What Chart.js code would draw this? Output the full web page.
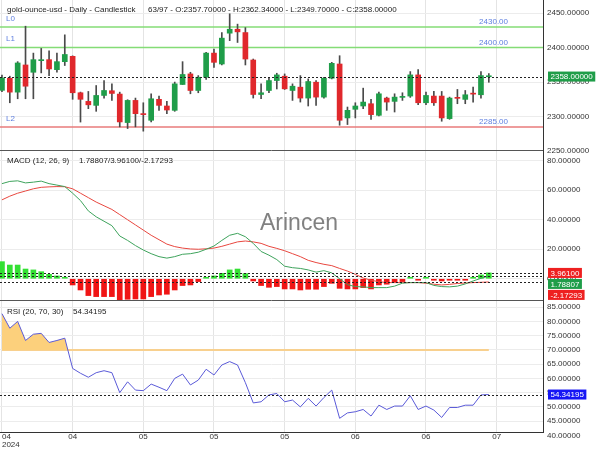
<!DOCTYPE html>
<html>
<head>
<meta charset="utf-8">
<script src="https://cdn.jsdelivr.net/npm/chart.js@4.4.1/dist/chart.umd.min.js"></script>
<style>
  html, body { margin: 0; padding: 0; background: #fff; }
  canvas { display: block; }
</style>
</head>
<body>
<canvas id="chart" width="600" height="450"></canvas>
<script>
// ── Data ──────────────────────────────────────────────────────────────
const opens  = [2338, 2355.6, 2335.4, 2374.8, 2364.2, 2381, 2382.5, 2368, 2379.6, 2387.3,
                2334.5, 2322, 2316.2, 2330.6, 2337.4, 2332.6, 2291.3, 2323.4, 2303.2, 2294.6,
                2325, 2315.3, 2309, 2346.5, 2361.8, 2337.8, 2357, 2392, 2376.2, 2420.9,
                2426.6, 2421.8, 2382, 2332, 2337.8, 2352.2, 2358.5, 2337.8, 2342.6, 2326.8,
                2349.8, 2328.2, 2355.6, 2376.2, 2298, 2310.5, 2315.3, 2318.6, 2301.8, 2326.8,
                2322, 2327.8, 2329.7, 2360.4, 2320, 2329.7, 2329.7, 2297, 2327.2, 2324.9,
                2333.2, 2331.6, 2357.7];
const highs  = [2360, 2358.5, 2379.6, 2431, 2392, 2398.8, 2395.4, 2392, 2418.5, 2388,
                2335.5, 2336.4, 2345, 2352.2, 2347.4, 2335.4, 2324.4, 2326.8, 2320, 2333,
                2329.7, 2322, 2350, 2379.6, 2364.2, 2359.4, 2393, 2397.8, 2421.8, 2449,
                2434, 2429, 2383.4, 2347.4, 2357, 2362.8, 2361.8, 2347.4, 2359.4, 2354.6,
                2352.2, 2357, 2378.6, 2388.2, 2313.8, 2320, 2341.2, 2324.9, 2335.4, 2328.2,
                2333, 2334.5, 2365.2, 2368, 2335.4, 2336.4, 2336.4, 2328.2, 2339.3, 2337.8,
                2342.6, 2365.2, 2362.34];
const lows   = [2336, 2320, 2325.8, 2325.8, 2325.8, 2363.3, 2359.4, 2364.2, 2374, 2325,
                2292, 2311.4, 2307.6, 2326.8, 2323.4, 2285, 2282.6, 2285, 2278.8, 2292.2,
                2309, 2304.2, 2307.6, 2346.5, 2333, 2334.5, 2353.7, 2371.4, 2374.8, 2410,
                2407.4, 2374.8, 2326.8, 2325.8, 2334.5, 2340, 2339.3, 2323.4, 2321, 2315.3,
                2316.2, 2326.8, 2354.6, 2287.4, 2288.4, 2298, 2311.4, 2296, 2300.9, 2309,
                2306.6, 2323.4, 2327.8, 2317.2, 2317.2, 2316.2, 2293.2, 2296, 2318.6, 2318.6,
                2321, 2326.8, 2349.7];
const closes = [2356, 2335.4, 2377.7, 2344, 2382.5, 2382.5, 2369, 2379.6, 2390, 2334.5,
                2325, 2317, 2330.6, 2337.8, 2333.5, 2292.2, 2323.4, 2304.2, 2302.8, 2325.8,
                2316.2, 2309.5, 2347.4, 2361, 2337.8, 2357, 2392, 2378.6, 2413.7, 2426.6,
                2422.8, 2383.4, 2332, 2334.5, 2352.2, 2360.4, 2340.2, 2344, 2326.8, 2350.8,
                2328.2, 2355.6, 2377.2, 2294.6, 2309, 2315.3, 2321, 2302.8, 2333, 2321,
                2328.2, 2328.6, 2360.4, 2320, 2330.6, 2320, 2298, 2326.8, 2326.4, 2331.6,
                2332.5, 2359.4, 2358];

const macdLine   = [64.5, 66, 66.4, 65, 65.5, 66.2, 64.5, 63.5, 62.5, 58,
                    53, 46, 42, 39, 36, 29, 26, 22.5, 19.5, 17, 15, 14, 15, 16.6,
                    17, 18, 20, 22.2, 26, 29.5, 30.8, 28.5, 24, 18.5, 16, 13,
                    8.5, 7.5, 7, 6, 4.5, 5.5, 4, 0, -4, -5.3, -5.5, -6, -6, -6,
                    -5, -3, -2.6, -2.6, -2.6, -4.5, -5.3, -5.5, -5, -3.5, -1.5, 0.3, 1.78807];
const signalLine = [53.5, 56, 58, 59.5, 61, 62, 62.3, 62.5, 62.4, 61,
                    58, 55, 52, 49.5, 47, 43.5, 40, 36.5, 33, 29.5, 26.5, 23.5, 21.8, 20.8,
                    20.2, 20, 20.3, 20.8, 22, 23.5, 25, 25.6, 25, 24, 22, 20.6,
                    19, 17, 15, 12.5, 11, 9.8, 8.9, 7, 5.2, 3, 0.5, -1, -2, -2.6,
                    -2.6, -2.6, -2.6, -2.6, -3, -3.7, -4.2, -3.8, -3.2, -2.9, -2.6, -2.4, -2.17293];
const histogram  = [11.6, 9.3, 9.3, 6.6, 6, 4.8, 3, 1.9, 0.8, -4.2,
                    -7.6, -11.4, -12.1, -12.1, -12.1, -14.4, -13.9, -13.7, -13.7, -12.1,
                    -11, -10.5, -7.6, -4.6, -4.2, -1.9, 0.8, 1.9, 3.7, 6,
                    6.6, 3.5, -1.5, -4.6, -5.8, -5.3, -6.9, -6.9, -7.6, -7.1,
                    -7.1, -5.3, -3.1, -6.5, -6.9, -6.9, -6, -6.9, -4.2, -3.7,
                    -2.4, -1.9, 0.8, -0.4, 0.5, -0.6, -1.5, -0.6, -0.5, -0.3,
                    0.8, 2.6, 3.961];

const rsi = [82.7, 77.6, 80, 73.3, 75.5, 75.8, 72.6, 73.3, 74.1, 63.5,
             61.8, 60.4, 62, 62.7, 62, 55, 58.8, 55.9, 55.7, 58,
             56.9, 55.7, 60, 61.5, 57.7, 59.4, 63.2, 61.2, 64.7, 65.9,
             64.7, 58.5, 51.4, 51.8, 54.2, 54.7, 51.8, 52.4, 50, 53,
             50.3, 53.3, 55.9, 46, 47.9, 48.3, 49.1, 46.8, 50.6, 49.1,
             50.3, 50.3, 53.9, 49.1, 50.3, 48.9, 46.3, 49.8, 49.8, 50.6,
             50.6, 54.2, 54.34195];
const rsiUpper = 70;

const levelNames  = ['L0', 'L1', 'L2'];
const levelValues = [2430, 2400, 2285];

const xTickIdx  = [0, 9, 18, 27, 36, 45, 54, 63];
const xTickText = ['04', '04', '05', '05', '05', '06', '06', '07'];
const yearText  = '2024';

const priceTicks = [2250, 2300, 2350, 2400, 2450];
const macdTicks  = [0, 20, 40, 60, 80];
const rsiTicks   = [40, 45, 50, 55, 60, 65, 70, 75, 80, 85];

// ── Styling ───────────────────────────────────────────────────────────
const FONT = '"Liberation Sans", Arial, sans-serif';
const UP = '#1f9d49', DOWN = '#e0282c';
const HIST_UP = '#33e033', HIST_DOWN = '#f01515';
const LEVEL_COLORS = ['#84dc76', '#84dc76', '#e87b7b'];
const LABEL_BLUE = '#5e7fe0';
const TICK_FONT = { family: FONT, size: 8, lineHeight: 1 };
const NONE = 'rgba(0,0,0,0)';

const idx = closes.map((_, i) => i);
const last = closes.length - 1;

function yAxis(ticks, min, max, weight, stackWeight) {
  return {
    type: 'linear', position: 'right', stack: 'panes', stackWeight, weight, min, max,
    afterBuildTicks: s => { s.ticks = ticks.map(v => ({ value: v })); },
    ticks: { autoSkip: false, color: '#333', font: TICK_FONT, padding: 4, callback: v => v.toFixed(5) },
    grid: {
      drawTicks: false,
      color: c => (c.tick && (c.tick.value < min || c.tick.value > max)) ? NONE : '#ececec'
    },
    border: { color: '#333' },
    afterFit: s => { s.width = 57; s.paddingTop = 0; s.paddingBottom = 0; }
  };
}

function tag(ctx, y, text, bg) {
  const w = ctx.measureText(text).width + 5;
  ctx.fillStyle = bg;
  ctx.fillRect(548, y - 5, w, 10);
  ctx.fillStyle = '#fff';
  ctx.textAlign = 'left';
  ctx.fillText(text, 550.5, y + 0.5);
}

function hline(ctx, a, y, dash, color) {
  ctx.save();
  ctx.strokeStyle = color;
  ctx.lineWidth = 1;
  ctx.setLineDash(dash);
  ctx.beginPath();
  ctx.moveTo(a.left, Math.round(y) + 0.5);
  ctx.lineTo(a.right, Math.round(y) + 0.5);
  ctx.stroke();
  ctx.restore();
}

const overlay = {
  id: 'overlay',
  beforeDatasetsDraw(chart) {
    const ctx = chart.ctx;
    ctx.save();
    ctx.font = '23px ' + FONT;
    ctx.fillStyle = 'rgba(115,115,115,0.9)';
    ctx.textBaseline = 'middle';
    ctx.fillText('Arincen', 260, 224);
    ctx.restore();
  },
  afterDraw(chart) {
    const ctx = chart.ctx, a = chart.chartArea;
    const sP = chart.scales.yP, sM = chart.scales.yM, sR = chart.scales.yR;
    ctx.save();
    // panel separators
    hline(ctx, a, sM.top, [], '#555');
    hline(ctx, a, sR.top, [], '#555');

    // last value lines
    hline(ctx, a, sP.getPixelForValue(closes[last]), [2, 2], '#222');
    [histogram[last], macdLine[last], signalLine[last]].forEach(v =>
      hline(ctx, a, sM.getPixelForValue(v), [2, 2], '#222'));
    hline(ctx, a, sR.getPixelForValue(rsi[last]), [2, 2], '#222');

    ctx.font = '8px ' + FONT;
    ctx.textBaseline = 'middle';

    // level labels
    levelValues.forEach((v, k) => {
      const y = sP.getPixelForValue(v);
      ctx.fillStyle = LABEL_BLUE;
      ctx.textAlign = 'left';
      ctx.fillText(levelNames[k], 6, y - 8.5);
      ctx.textAlign = 'right';
      ctx.fillText(v.toFixed(2), 508, y - 5);
    });

    // panel captions
    ctx.textAlign = 'left';
    ctx.fillStyle = '#222';
    ctx.fillText('gold-ounce-usd - Daily - Candlestick', 7, 10);
    ctx.fillText(closes.length + '/97 - O:' + opens[last].toFixed(5) + ' - H:' + highs[last].toFixed(5) +
                 ' - L:' + lows[last].toFixed(5) + ' - C:' + closes[last].toFixed(5), 148, 10);
    ctx.fillText('MACD (12, 26, 9)', 7, sM.top + 11);
    ctx.fillText(macdLine[last].toFixed(5) + '/' + histogram[last].toFixed(5) + '/' + signalLine[last].toFixed(5), 79, sM.top + 11);
    ctx.fillText('RSI (20, 70, 30)', 7, sR.top + 12);
    ctx.fillText(rsi[last].toFixed(5), 73, sR.top + 12);

    // axis tags
    tag(ctx, sP.getPixelForValue(closes[last]), closes[last].toFixed(5), UP);
    const mt = [
      [histogram[last], '#ee2020'],
      [macdLine[last], UP],
      [signalLine[last], '#ee2020']
    ].map(([v, c]) => ({ v, c, y: sM.getPixelForValue(v) })).sort((p, q) => p.y - q.y);
    let prev = -Infinity;
    mt.forEach(t => {
      const y = Math.max(t.y, prev + 11);
      tag(ctx, y, t.v.toFixed(5), t.c);
      prev = y;
    });
    tag(ctx, sR.getPixelForValue(rsi[last]), rsi[last].toFixed(5), '#1616f5');
    ctx.restore();
  }
};

new Chart(document.getElementById('chart'), {
  data: {
    datasets: [
      {
        type: 'bar', label: 'body', yAxisID: 'yP', order: 1,
        data: idx.map(i => ({ x: i, y: [opens[i], closes[i]] })),
        backgroundColor: idx.map(i => closes[i] >= opens[i] ? UP : DOWN),
        barThickness: 5, grouped: false, minBarLength: 1
      },
      {
        type: 'bar', label: 'wick', yAxisID: 'yP', order: 2,
        data: idx.map(i => ({ x: i, y: [lows[i], highs[i]] })),
        backgroundColor: '#4a4a4a',
        barThickness: 1, grouped: false
      },
      ...levelValues.map((v, k) => ({
        type: 'line', label: levelNames[k], yAxisID: 'yP', order: 3,
        data: [{ x: -1, y: v }, { x: 70, y: v }],
        borderColor: LEVEL_COLORS[k], borderWidth: 1.5, pointRadius: 0
      })),
      {
        type: 'bar', label: 'hist', yAxisID: 'yM', order: 3,
        data: idx.map(i => ({ x: i, y: histogram[i] })),
        backgroundColor: histogram.map(v => v >= 0 ? HIST_UP : HIST_DOWN),
        barThickness: 5, grouped: false, minBarLength: 1.5
      },
      {
        type: 'line', label: 'macd', yAxisID: 'yM', order: 1,
        data: idx.map(i => ({ x: i, y: macdLine[i] })),
        borderColor: '#3ea35c', borderWidth: 1, pointRadius: 0, tension: 0
      },
      {
        type: 'line', label: 'signal', yAxisID: 'yM', order: 1,
        data: idx.map(i => ({ x: i, y: signalLine[i] })),
        borderColor: '#e8473f', borderWidth: 1, pointRadius: 0, tension: 0
      },
      {
        type: 'line', label: 'rsi70', yAxisID: 'yR', order: 2,
        data: [{ x: 0, y: rsiUpper }, { x: last, y: rsiUpper }],
        borderColor: '#f8d08e', borderWidth: 2, pointRadius: 0
      },
      {
        type: 'line', label: 'rsi', yAxisID: 'yR', order: 1,
        data: idx.map(i => ({ x: i, y: rsi[i] })),
        borderColor: '#5a5ad8', borderWidth: 1, pointRadius: 0, tension: 0,
        fill: { target: { value: rsiUpper }, above: '#fcd07c', below: NONE }
      }
    ]
  },
  options: {
    responsive: false,
    animation: false,
    layout: { padding: 0 },
    plugins: { legend: { display: false }, tooltip: { enabled: false } },
    scales: {
      x: {
        type: 'linear', min: -0.25, max: 68.9, offset: false,
        afterBuildTicks: s => { s.ticks = xTickIdx.concat([68.9]).map(v => ({ value: v })); },
        ticks: {
          autoSkip: false, maxRotation: 0, align: 'inner', padding: 1,
          color: '#333', font: TICK_FONT,
          callback: v => {
            const k = xTickIdx.indexOf(v);
            if (k < 0) return '';
            return k === 0 ? [xTickText[0], yearText] : xTickText[k];
          }
        },
        grid: {
          offset: false, drawTicks: false,
          color: c => (c.tick && xTickIdx.includes(c.tick.value)) ? '#e4e4e4' : NONE
        },
        border: { color: '#333' },
        afterFit: s => { s.paddingLeft = 0; s.paddingRight = 0; }
      },
      yP: yAxis(priceTicks, 2251.5, 2469, 0, 150),
      yM: yAxis(macdTicks, -14.4, 87.3, 1, 150),
      yR: yAxis(rsiTicks, 41.2, 87.5, 2, 132)
    }
  },
  plugins: [overlay]
});
</script>
</body>
</html>
